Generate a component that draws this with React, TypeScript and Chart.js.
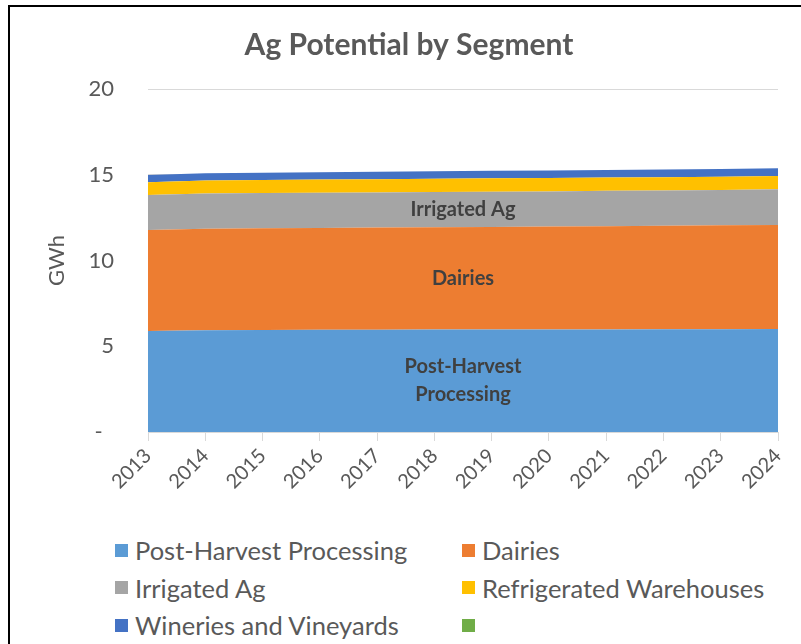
import React, { useEffect, useRef } from 'react';
import { Chart, registerables } from 'chart.js';

Chart.register(...registerables);

const years = ['2013', '2014', '2015', '2016', '2017', '2018', '2019', '2020', '2021', '2022', '2023', '2024'];
const postHarvest = [5.89, 5.93, 5.95, 5.96, 5.96, 5.97, 5.97, 5.98, 5.98, 5.99, 5.99, 6.0];
const dairies = [5.89, 5.92, 5.93, 5.94, 5.96, 5.97, 5.99, 6.0, 6.02, 6.03, 6.06, 6.07];
const irrigatedAg = [2.04, 2.05, 2.05, 2.05, 2.05, 2.05, 2.05, 2.05, 2.06, 2.06, 2.06, 2.08];
const refrigerated = [0.74, 0.76, 0.76, 0.77, 0.77, 0.77, 0.78, 0.78, 0.78, 0.78, 0.78, 0.78];
const wineries = [0.43, 0.43, 0.43, 0.43, 0.44, 0.44, 0.44, 0.44, 0.44, 0.45, 0.45, 0.45];
const yTicks = [0, 5, 10, 15, 20];

const seriesNames = ['Post-Harvest Processing', 'Dairies', 'Irrigated Ag', 'Refrigerated Warehouses', 'Wineries and Vineyards'];
const seriesColors = ['#5B9BD5', '#ED7D31', '#A5A5A5', '#FFC000', '#4472C4'];
const seriesValues = [postHarvest, dairies, irrigatedAg, refrigerated, wineries];
const areaLabels: (string[] | null)[] = [['Post-Harvest', 'Processing'], ['Dairies'], ['Irrigated Ag'], null, null];
const legendNames = [...seriesNames, ''];
const legendColors = [...seriesColors, '#70AD47'];

const FONT = 'Lato';
const TEXT = '#595959';

const areaLabelPlugin = {
  id: 'areaLabels',
  afterDatasetsDraw(chart: any) {
    const ctx = chart.ctx;
    const xs = chart.scales.x;
    const ys = chart.scales.y;
    const i0 = 5;
    const i1 = 6;
    const x = (xs.getPixelForValue(i0) + xs.getPixelForValue(i1)) / 2;
    let base = 0;
    ctx.save();
    ctx.font = `bold 20px ${FONT}`;
    ctx.fillStyle = '#404040';
    ctx.textAlign = 'center';
    ctx.textBaseline = 'middle';
    seriesValues.forEach((vals, k) => {
      const v = (vals[i0] + vals[i1]) / 2;
      const lines = areaLabels[k];
      if (lines) {
        const mid = ys.getPixelForValue(base + v / 2);
        const lh = 28;
        lines.forEach((ln, j) => {
          ctx.fillText(ln, x, mid + (j - (lines.length - 1) / 2) * lh);
        });
      }
      base += v;
    });
    ctx.restore();
  },
};

export default function App() {
  const ref = useRef<HTMLCanvasElement>(null);

  useEffect(() => {
    if (!ref.current) return;
    const chart = new Chart(ref.current, {
      type: 'line',
      data: {
        labels: years,
        datasets: seriesValues.map((vals, i) => ({
          label: seriesNames[i],
          data: vals,
          backgroundColor: seriesColors[i],
          borderColor: 'transparent',
          borderWidth: 0,
          pointRadius: 0,
          pointHoverRadius: 0,
          tension: 0,
          fill: i === 0 ? 'origin' : '-1',
        })),
      },
      options: {
        responsive: false,
        animation: false,
        devicePixelRatio: 1,
        events: [],
        layout: { padding: { left: 40, right: 23, top: 0, bottom: 0 } },
        plugins: {
          legend: { display: false },
          tooltip: { enabled: false },
          title: {
            display: true,
            text: 'Ag Potential by Segment',
            color: TEXT,
            font: { family: FONT, size: 30, weight: 'bold' },
            padding: { top: 27, bottom: 26 },
          },
        },
        scales: {
          x: {
            offset: false,
            grid: { display: true, drawOnChartArea: false, drawTicks: true, tickLength: 9, color: '#d9d9d9' },
            border: { display: true, color: '#d9d9d9' },
            ticks: { minRotation: 45, maxRotation: 45, padding: 3, color: TEXT, font: { family: FONT, size: 20 } },
            afterFit: (s: any) => { s.height = 88; },
          },
          y: {
            stacked: true,
            min: yTicks[0],
            max: yTicks[yTicks.length - 1],
            afterBuildTicks: (s: any) => { s.ticks = yTicks.map((v) => ({ value: v })); },
            ticks: {
              padding: 34,
              color: TEXT,
              font: { family: FONT, size: 22 },
              callback: (v: any) => (Number(v) === 0 ? '-  ' : String(v)),
            },
            grid: { color: '#d9d9d9', drawTicks: false },
            border: { display: false },
            title: { display: true, text: 'GWh', color: TEXT, font: { family: FONT, size: 22 }, padding: { top: 4, bottom: 4 } },
            afterFit: (s: any) => { s.width = 108; },
          },
        },
      } as any,
      plugins: [areaLabelPlugin],
    });
    return () => chart.destroy();
  }, []);

  return (
    <div style={{ position: 'fixed', left: 0, top: 0, width: 801, height: 644, overflow: 'hidden', background: '#fff' }}>
      <div style={{ position: 'absolute', left: 8, top: 5, width: 820, height: 700, borderTop: '2px solid #000', borderLeft: '2px solid #000', boxSizing: 'border-box' }} />
      <canvas ref={ref} width={801} height={520} style={{ position: 'absolute', left: 0, top: 0, width: 801, height: 520 }} />
      {legendNames.map((name, i) => {
        const row = Math.floor(i / 2);
        const col = i % 2;
        const cy = 550 + row * 37.5;
        return (
          <div key={i} style={{ position: 'absolute', left: col ? 462 : 115, top: cy - 15, height: 30, display: 'flex', alignItems: 'center', whiteSpace: 'nowrap', fontFamily: FONT, fontSize: 25.5, color: TEXT }}>
            <span style={{ display: 'inline-block', width: 13, height: 13, background: legendColors[i], marginRight: 7 }} />
            <span>{name}</span>
          </div>
        );
      })}
    </div>
  );
}
